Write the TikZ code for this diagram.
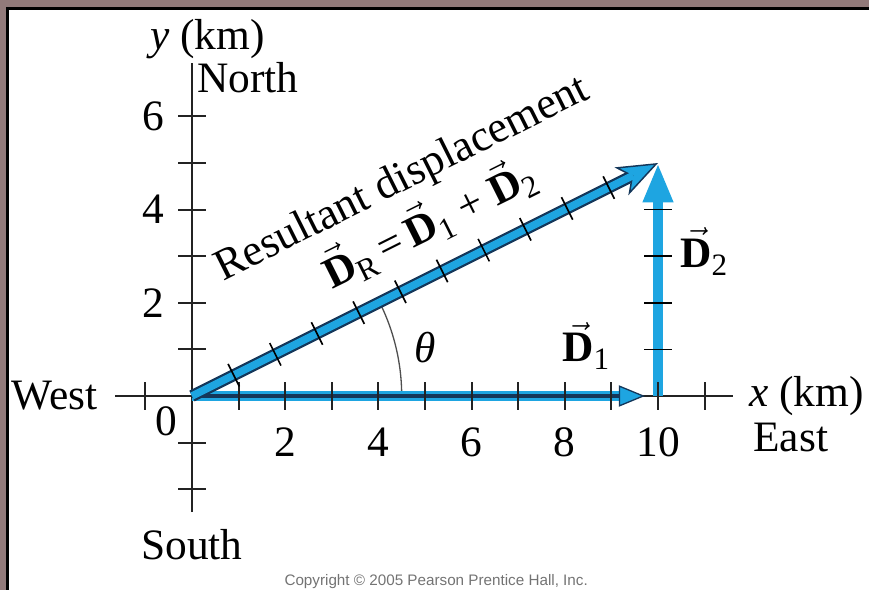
\documentclass[tikz,border=0pt]{standalone}
\usepackage{amsmath}
\usepackage{fontspec}
\setmainfont{Liberation Serif}
\newfontfamily\copyfont{Liberation Sans}
\usetikzlibrary{arrows.meta,calc}
\definecolor{framemauve}{RGB}{146,122,122}
\definecolor{vecblue}{RGB}{30,165,225}
\definecolor{vecnavy}{RGB}{20,55,90}
\definecolor{axisgray}{RGB}{35,35,35}
\newcommand{\vD}[1]{$\vec{\textbf{D}}$\raisebox{-0.4ex}{\fontsize{19}{20}\selectfont #1}}
\tikzset{
  axis/.style={draw=axisgray,line width=1.5pt},
  tick/.style={draw=axisgray,line width=1.3pt},
  hash/.style={draw=black,line width=1pt},
  lbl/.style={font=\fontsize{26.5}{31}\selectfont,inner sep=0pt},
  resvec/.style={draw=vecnavy,line width=7.3pt,-{Stealth[length=25pt,width=19pt,inset=7pt,line width=0.9pt,fill=vecblue]}},
  resfill/.style={draw=vecblue,line width=4.6pt,shorten >=17pt},
  eastvec/.style={draw=vecblue,line width=6.5pt,-{Triangle[length=16pt,width=13pt,line width=0.8pt,fill=vecblue,color=vecnavy]}},
  eastcore/.style={draw=vecnavy,line width=2.2pt,shorten >=15pt},
  northvec/.style={draw=vecblue,line width=6pt,-{Triangle[length=24pt,width=17pt]}}
}
\begin{document}
\begin{tikzpicture}
  \useasboundingbox (-4.12,-4.163) rectangle (14.528,8.498);
  % frame
  \fill[framemauve] (-4.12,8.348) rectangle (14.528,8.498);
  \fill[framemauve] (-4.12,-4.163) rectangle (-3.991,8.498);
  \fill[black] (-3.991,8.283) rectangle (14.528,8.348);
  \fill[black] (-3.991,-4.163) rectangle (-3.927,8.348);

  \coordinate (O) at (0,0);
  \coordinate (T) at (10,5);
  \coordinate (E1) at (9.72,0);
  \coordinate (B2) at (10,0);
  \coordinate (xl) at (-1.65,0);
  \coordinate (xr) at (11.61,0);
  \coordinate (yb) at (0,-2.49);
  \coordinate (yt) at (0,7.15);

  % axes
  \draw[axis] (xl) -- (xr);
  \draw[axis] (yb) -- (yt);
  \draw[draw=axisgray!80,line width=0.8pt] (4.5,0) arc[start angle=0,end angle=26.565,radius=4.5];

  % vectors
  \draw[northvec] (B2) -- (T);
  \draw[eastvec] (O) -- (E1);
  \draw[eastcore] (O) -- (E1);
  \draw[resvec] (O) -- (T);
  \draw[resfill] (O) -- (T);

  \foreach \k in {-1,1,2,...,11}
    \draw[tick] (\k,-0.3) -- (\k,0.3);
  \foreach \k in {-2,-1,1,2,...,6}
    \draw[tick] (-0.3,\k) -- (0.3,\k);
  \foreach \k in {1,...,4}
    \draw[hash] (9.7,\k) -- (10.3,\k);
  \begin{scope}[rotate=26.565]
    \foreach \k in {1,...,10}
      \draw[hash] (\k,-0.27) -- (\k,0.27);
  \end{scope}

  % labels
  \node[lbl] (ylab) at (0.33,7.66) {\textit{y} (km)};
  \node[lbl,anchor=west] (north) at (0.107,6.83) {North};
  \foreach \k in {2,4,6}
    \node[lbl,anchor=east] (y\k) at (-0.58,\k) {\k};
  \node[lbl,anchor=east] (west) at (-2.02,0) {West};
  \node[lbl] (zero) at (-0.54,-0.54) {0};
  \foreach \k in {2,4,...,10}
    \node[lbl] (x\k) at (\k,-0.99) {\k};
  \node[lbl,anchor=west] (xlab) at (11.95,0) {\textit{x} (km)};
  \node[lbl,anchor=west] (east) at (12.04,-0.88) {East};
  \node[lbl] (south) at (0,-3.2) {South};
  \node[lbl] (theta) at (5.0,1.05) {\textit{θ}};
  \node[lbl,anchor=base west] (d1) at (7.94,0.73) {\vD{1}};
  \node[lbl,anchor=base west] (d2) at (10.47,2.75) {\vD{2}};
  \node[lbl,font=\fontsize{27}{32}\selectfont,rotate=26.565,anchor=base] (res) at (4.62,4.43) {Resultant displacement};
  \node[lbl,rotate=26.565,anchor=base] (sum) at (5.23,3.40) {\vD{R}\,=\,\vD{1} + \vD{2}};
  \node[font=\copyfont\fontsize{9.3}{11}\selectfont,text=black!55] (copy) at (5.24,-3.99)
    {Copyright © 2005 Pearson Prentice Hall, Inc.};
\end{tikzpicture}
\end{document}
